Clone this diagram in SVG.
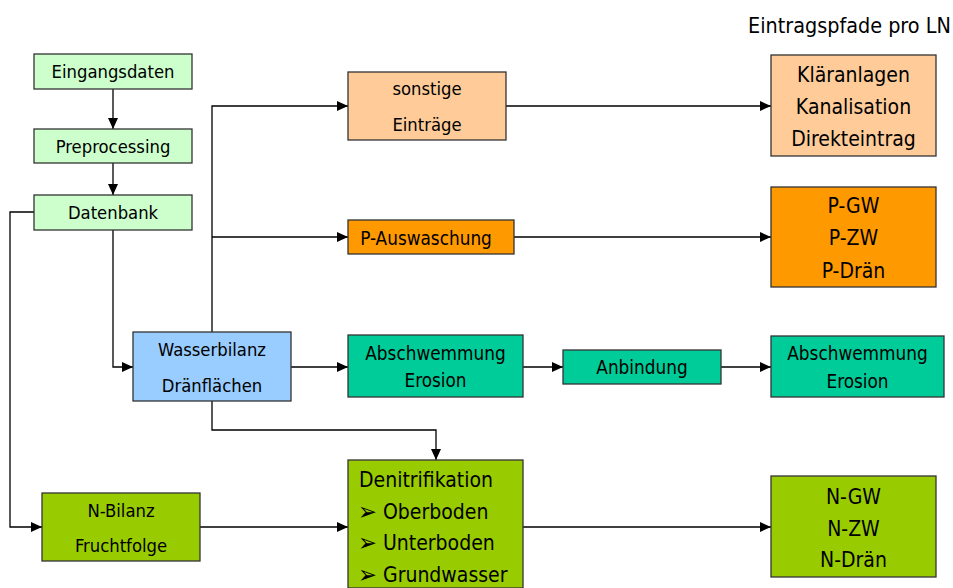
<svg xmlns="http://www.w3.org/2000/svg" width="953" height="588" viewBox="0 0 953 588">
<style>
  text { font-family: 'DejaVu Sans Condensed', 'DejaVu Sans', sans-serif; font-stretch: condensed; fill: #000; }
  .c { text-anchor: middle; }
  .s17 { font-size: 18.3px; }
  .s18 { font-size: 18.8px; }
  .s21 { font-size: 21px; }
  .bul { font-size: 25px; }
  .box { stroke: #333; stroke-width: 1.3; }
  .lg { fill: #CCFFCC; }
  .bl { fill: #99CCFF; }
  .pe { fill: #FFCC99; }
  .or { fill: #FF9900; }
  .te { fill: #00CC99; }
  .yg { fill: #99CC00; }
  .ln { fill: none; stroke: #000; stroke-width: 1.3; }
</style>
<defs>
  <marker id="ah" markerUnits="userSpaceOnUse" markerWidth="11" markerHeight="10" refX="11" refY="5" orient="auto">
    <path d="M0,0 L11,5 L0,10 z" fill="#000"/>
  </marker>
</defs>
<rect width="953" height="588" fill="#fff"/>

<text x="748" y="33" style="font-size:21.4px">Eintragspfade pro LN</text>

<g id="connectors">
  <path class="ln" d="M113,89 V129" marker-end="url(#ah)"/>
  <path class="ln" d="M113,163 V195" marker-end="url(#ah)"/>
  <path class="ln" d="M113,230 V367 H133" marker-end="url(#ah)"/>
  <path class="ln" d="M34,212 H10 V527 H42" marker-end="url(#ah)"/>
  <path class="ln" d="M212,332 V106 H348" marker-end="url(#ah)"/>
  <path class="ln" d="M212,237 H348" marker-end="url(#ah)"/>
  <path class="ln" d="M291,367 H348" marker-end="url(#ah)"/>
  <path class="ln" d="M212,401 V430 H436 V460" marker-end="url(#ah)"/>
  <path class="ln" d="M200,527 H348" marker-end="url(#ah)"/>
  <path class="ln" d="M506,106 H771" marker-end="url(#ah)"/>
  <path class="ln" d="M514,237 H771" marker-end="url(#ah)"/>
  <path class="ln" d="M523,367 H563" marker-end="url(#ah)"/>
  <path class="ln" d="M721,367 H771" marker-end="url(#ah)"/>
  <path class="ln" d="M523,527 H771" marker-end="url(#ah)"/>
</g>

<g id="eingangsdaten">
  <rect class="box lg" x="34" y="54" width="158" height="35"/>
  <text class="c s17" x="113" y="78">Eingangsdaten</text>
</g>
<g id="preprocessing">
  <rect class="box lg" x="34" y="129" width="158" height="34"/>
  <text class="c s17" x="113" y="153">Preprocessing</text>
</g>
<g id="datenbank">
  <rect class="box lg" x="34" y="195" width="158" height="35"/>
  <text class="c s17" x="113" y="219">Datenbank</text>
</g>
<g id="wasserbilanz">
  <rect class="box bl" x="133" y="332" width="158" height="69"/>
  <text class="c s17" x="212" y="356">Wasserbilanz</text>
  <text class="c s17" x="212" y="392">Dränflächen</text>
</g>
<g id="nbilanz">
  <rect class="box yg" x="42" y="493" width="158" height="68"/>
  <text class="c s17" x="121" y="517">N-Bilanz</text>
  <text class="c s17" x="121" y="552">Fruchtfolge</text>
</g>
<g id="sonstige">
  <rect class="box pe" x="348" y="72" width="158" height="68"/>
  <text class="c s17" x="427" y="95">sonstige</text>
  <text class="c s17" x="427" y="131">Einträge</text>
</g>
<g id="pauswaschung">
  <rect class="box or" x="348" y="220" width="166" height="34"/>
  <text class="c s18" x="426" y="245">P-Auswaschung</text>
</g>
<g id="abschwemmung1">
  <rect class="box te" x="348" y="335" width="175" height="62"/>
  <text class="c s18" x="435.5" y="360">Abschwemmung</text>
  <text class="c s18" x="435.5" y="387">Erosion</text>
</g>
<g id="anbindung">
  <rect class="box te" x="563" y="350" width="158" height="34"/>
  <text class="c s18" x="642" y="374">Anbindung</text>
</g>
<g id="abschwemmung2">
  <rect class="box te" x="771" y="336" width="173" height="61"/>
  <text class="c s18" x="857.5" y="360">Abschwemmung</text>
  <text class="c s18" x="857.5" y="388">Erosion</text>
</g>
<g id="denitrifikation">
  <rect class="box yg" x="348" y="460" width="175" height="128"/>
  <text class="s21" x="359" y="487">Denitrifikation</text>
  <text class="bul" x="358" y="520">➢</text>
  <text class="s21" x="383" y="519">Oberboden</text>
  <text class="bul" x="358" y="551">➢</text>
  <text class="s21" x="383" y="550">Unterboden</text>
  <text class="bul" x="358" y="583">➢</text>
  <text class="s21" x="383" y="582">Grundwasser</text>
</g>
<g id="klaeranlagen">
  <rect class="box pe" x="771" y="55" width="165" height="101"/>
  <text class="c s21" x="853.5" y="82">Kläranlagen</text>
  <text class="c s21" x="853.5" y="114">Kanalisation</text>
  <text class="c s21" x="853.5" y="146">Direkteintrag</text>
</g>
<g id="pgw">
  <rect class="box or" x="771" y="187" width="165" height="100"/>
  <text class="c s21" x="853.5" y="213">P-GW</text>
  <text class="c s21" x="853.5" y="245">P-ZW</text>
  <text class="c s21" x="853.5" y="278">P-Drän</text>
</g>
<g id="ngw">
  <rect class="box yg" x="771" y="476" width="165" height="101"/>
  <text class="c s21" x="853.5" y="504">N-GW</text>
  <text class="c s21" x="853.5" y="536">N-ZW</text>
  <text class="c s21" x="853.5" y="567">N-Drän</text>
</g>
</svg>
